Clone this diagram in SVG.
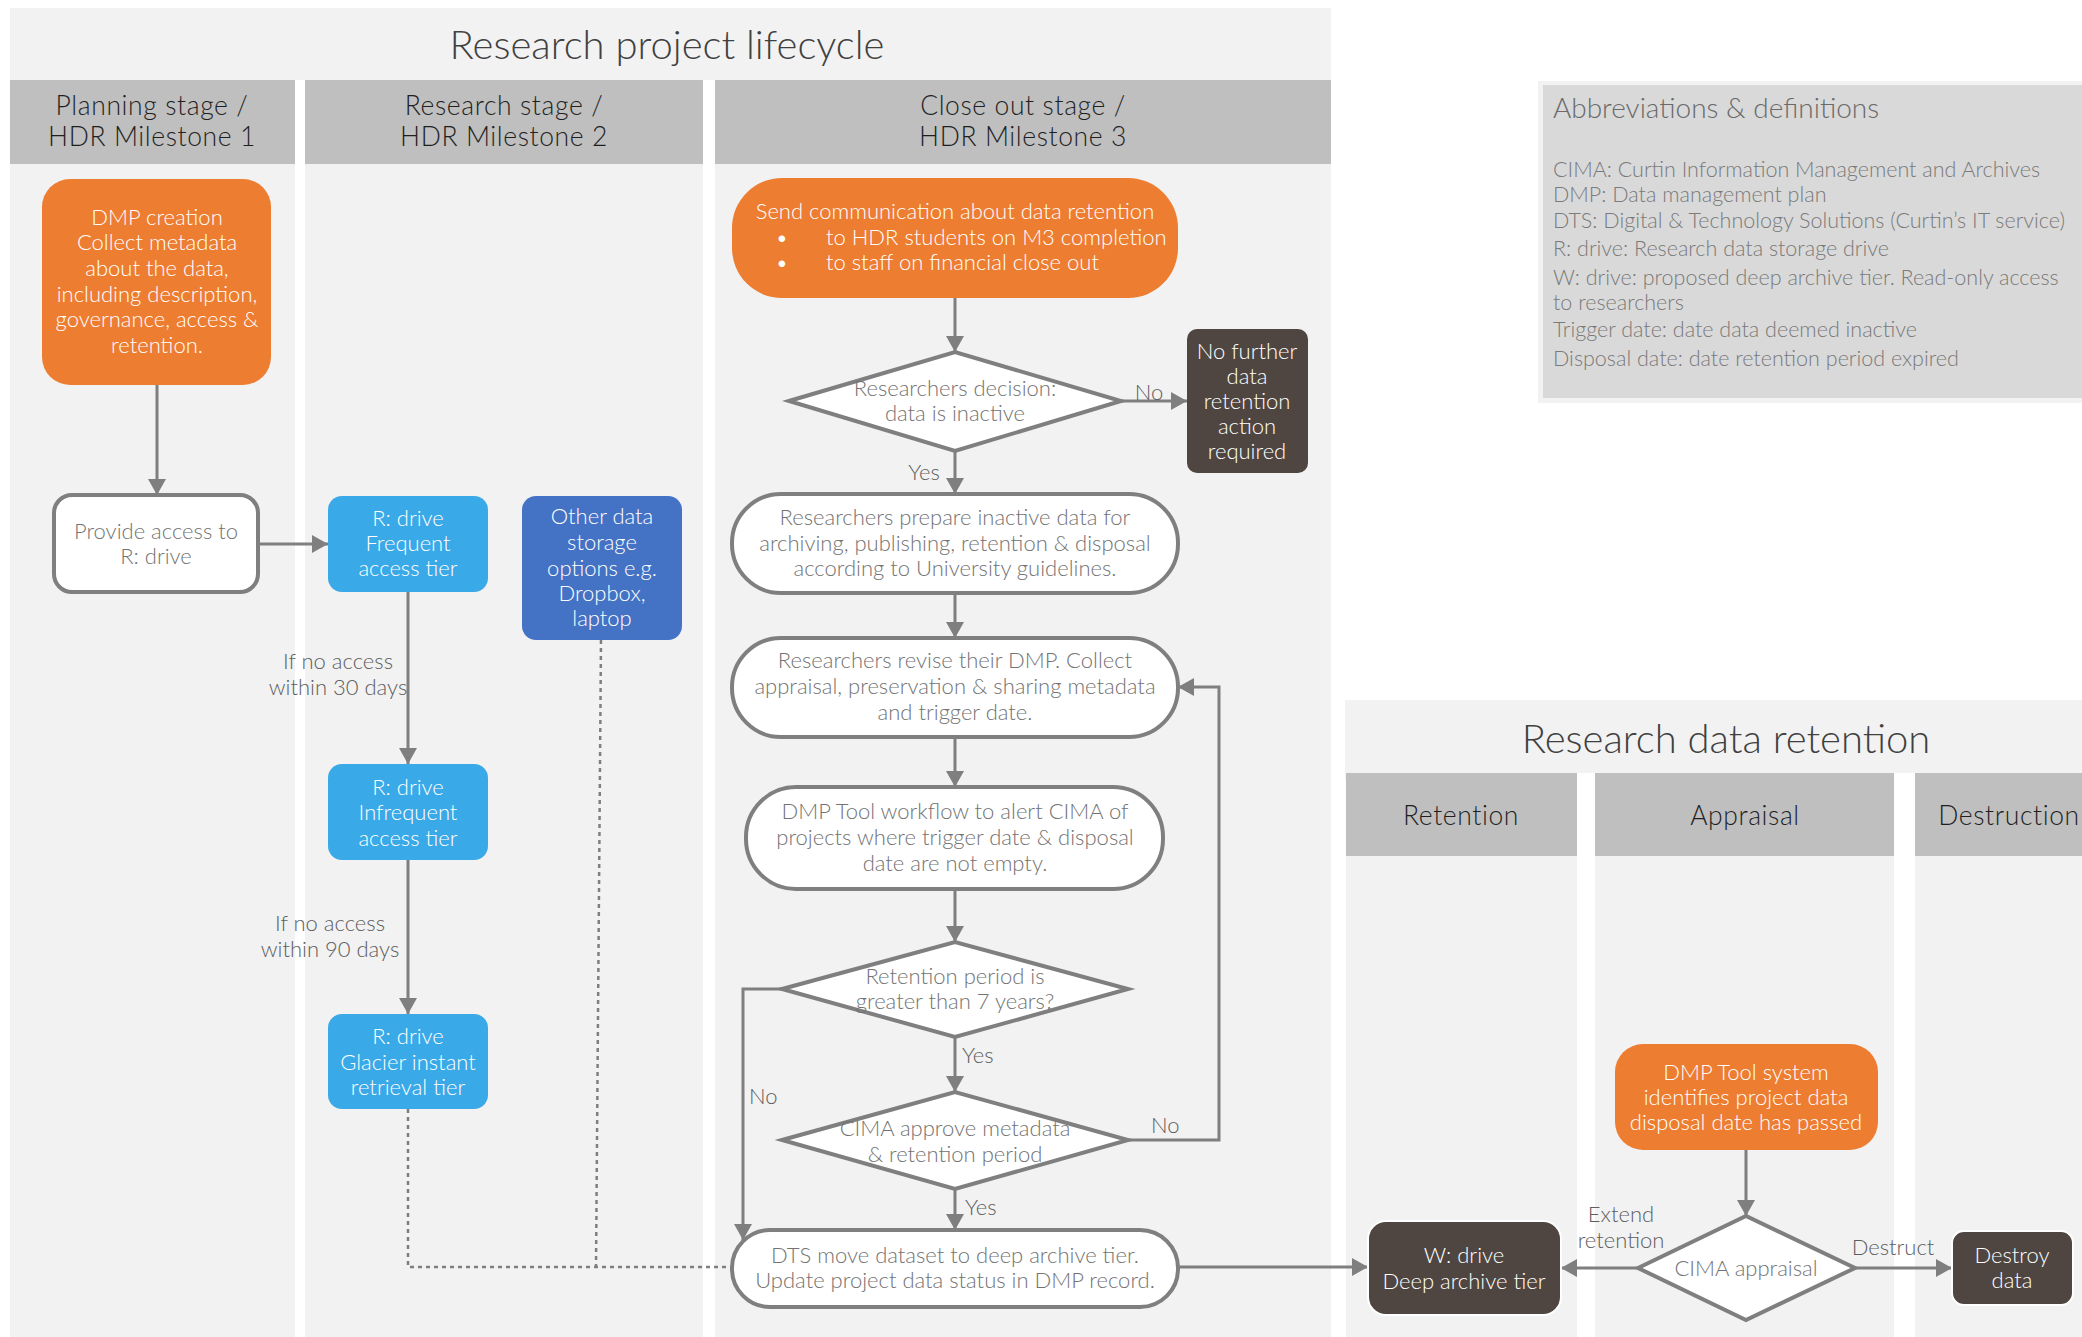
<svg xmlns="http://www.w3.org/2000/svg" width="2082" height="1337" viewBox="0 0 2082 1337">
<style>
.lane{fill:#F2F2F2}
.hdr{fill:#BFBFBF}
text{font-family:Lato,'Open Sans','Liberation Sans',sans-serif;font-weight:300}
.ttl{font-size:40px;fill:#404040;text-anchor:middle}
.hd{font-size:26.5px;fill:#1F1F1F;text-anchor:middle;letter-spacing:0.6px}
.bx{font-size:22px;text-anchor:middle}
.w{fill:#FFFFFF}
.g{fill:#737373}
.lbl{font-size:22px;fill:#5E5E5E}
.ab{font-size:21.5px;fill:#7A7A7A}
.abt{font-size:28px;fill:#6A6A6A}
.conn{stroke:#7F7F7F;stroke-width:3;fill:none}
.dot{stroke:#7F7F7F;stroke-width:2.5;stroke-dasharray:4 4;fill:none}
.wbox{fill:#FFFFFF;stroke:#7F7F7F;stroke-width:4}
.org{fill:#ED7D31}
.blu{fill:#3AA9E8}
.dblu{fill:#4472C4}
.brn{fill:#4F4641}
.brnw{fill:#4F4641;stroke:#FFFFFF;stroke-width:2}
</style>
<defs>
<marker id="arr" markerUnits="userSpaceOnUse" markerWidth="16" markerHeight="18" refX="16" refY="9" orient="auto">
<path d="M0,0 L16,9 L0,18 Z" fill="#7F7F7F"/>
</marker>
</defs>
<rect width="2082" height="1337" fill="#FFFFFF"/>

<g id="lifecycle-panel">
<rect class="lane" x="10" y="8" width="1321" height="80"/>
<rect class="lane" x="10" y="80" width="285" height="1257"/>
<rect class="lane" x="305" y="80" width="398" height="1257"/>
<rect class="lane" x="715" y="80" width="616" height="1257"/>
<rect x="295" y="80" width="10" height="1257" fill="#FFFFFF"/>
<rect x="703" y="80" width="12" height="1257" fill="#FFFFFF"/>
<text class="ttl" x="667" y="59">Research project lifecycle</text>
</g>
<g id="hdr-planning">
<rect class="hdr" x="10" y="80" width="285" height="84"/>
<text class="hd" x="152" y="115">Planning stage /</text>
<text class="hd" x="152" y="146">HDR Milestone 1</text>
</g>
<g id="hdr-research">
<rect class="hdr" x="305" y="80" width="398" height="84"/>
<text class="hd" x="504" y="115">Research stage /</text>
<text class="hd" x="504" y="146">HDR Milestone 2</text>
</g>
<g id="hdr-closeout">
<rect class="hdr" x="715" y="80" width="616" height="84"/>
<text class="hd" x="1023" y="115">Close out stage /</text>
<text class="hd" x="1023" y="146">HDR Milestone 3</text>
</g>

<g id="retention-panel">
<rect class="lane" x="1345" y="700" width="737" height="80"/>
<rect class="lane" x="1346" y="773" width="231" height="564"/>
<rect class="lane" x="1595" y="773" width="299" height="564"/>
<rect class="lane" x="1915" y="773" width="167" height="564"/>
<rect x="1577" y="773" width="18" height="564" fill="#FFFFFF"/>
<rect x="1894" y="773" width="21" height="564" fill="#FFFFFF"/>
<text class="ttl" x="1726" y="753">Research data retention</text>
</g>
<g id="hdr-retention">
<rect class="hdr" x="1346" y="773" width="231" height="83"/>
<text class="hd" x="1461" y="825">Retention</text>
</g>
<g id="hdr-appraisal">
<rect class="hdr" x="1595" y="773" width="299" height="83"/>
<text class="hd" x="1745" y="825">Appraisal</text>
</g>
<g id="hdr-destruction">
<rect class="hdr" x="1915" y="773" width="167" height="83"/>
<text class="hd" x="2009" y="825">Destruction</text>
</g>

<g id="abbreviations">
<rect x="1538" y="81" width="560" height="322" fill="#F2F2F2"/>
<rect x="1543" y="85" width="550" height="313" fill="#D9D9D9"/>
<text class="abt" x="1553" y="118">Abbreviations &amp; definitions</text>
<text class="ab" x="1553" y="177">CIMA: Curtin Information Management and Archives</text>
<text class="ab" x="1553" y="202">DMP: Data management plan</text>
<text class="ab" x="1553" y="228">DTS: Digital &amp; Technology Solutions (Curtin’s IT service)</text>
<text class="ab" x="1553" y="256">R: drive: Research data storage drive</text>
<text class="ab" x="1553" y="285">W: drive: proposed deep archive tier. Read-only access</text>
<text class="ab" x="1553" y="310">to researchers</text>
<text class="ab" x="1553" y="337">Trigger date: date data deemed inactive</text>
<text class="ab" x="1553" y="366">Disposal date: date retention period expired</text>
</g>

<g id="connectors">
<path class="conn" d="M157,385 V495" marker-end="url(#arr)"/>
<path class="conn" d="M258,544 H328" marker-end="url(#arr)"/>
<path class="conn" d="M408,592 V764" marker-end="url(#arr)"/>
<path class="conn" d="M408,860 V1014" marker-end="url(#arr)"/>
<path class="dot" d="M408,1109 V1267 H732"/>
<path class="dot" d="M601,640 L596,1267"/>
<path class="conn" d="M955,298 V352" marker-end="url(#arr)"/>
<path class="conn" d="M1121,401 H1187" marker-end="url(#arr)"/>
<path class="conn" d="M955,451 V494" marker-end="url(#arr)"/>
<path class="conn" d="M955,593 V638" marker-end="url(#arr)"/>
<path class="conn" d="M955,737 V787" marker-end="url(#arr)"/>
<path class="conn" d="M955,889 V942" marker-end="url(#arr)"/>
<path class="conn" d="M955,1037 V1092" marker-end="url(#arr)"/>
<path class="conn" d="M955,1189 V1230" marker-end="url(#arr)"/>
<path class="conn" d="M782,989 H743 V1240" marker-end="url(#arr)"/>
<path class="conn" d="M1128,1140 H1219 V687 H1178" marker-end="url(#arr)"/>
<path class="conn" d="M1178,1267 H1368" marker-end="url(#arr)"/>
<path class="conn" d="M1746,1150 V1216" marker-end="url(#arr)"/>
<path class="conn" d="M1638,1268 H1561" marker-end="url(#arr)"/>
<path class="conn" d="M1855,1268 H1952" marker-end="url(#arr)"/>
<text class="lbl" x="338" y="669" text-anchor="middle">If no access</text>
<text class="lbl" x="338" y="695" text-anchor="middle">within 30 days</text>
<text class="lbl" x="330" y="931" text-anchor="middle">If no access</text>
<text class="lbl" x="330" y="957" text-anchor="middle">within 90 days</text>
<text class="lbl" x="1149" y="400" text-anchor="middle">No</text>
<text class="lbl" x="924" y="480" text-anchor="middle">Yes</text>
<text class="lbl" x="962" y="1063">Yes</text>
<text class="lbl" x="965" y="1215">Yes</text>
<text class="lbl" x="749" y="1104">No</text>
<text class="lbl" x="1151" y="1133">No</text>
<text class="lbl" x="1621" y="1222" text-anchor="middle">Extend</text>
<text class="lbl" x="1621" y="1248" text-anchor="middle">retention</text>
<text class="lbl" x="1893" y="1255" text-anchor="middle">Destruct</text>
</g>

<g id="n-dmp-creation">
<rect class="org" x="42" y="179" width="229" height="206" rx="28"/>
<text class="bx w" x="157" y="225">DMP creation</text>
<text class="bx w" x="157" y="250">Collect metadata</text>
<text class="bx w" x="157" y="276">about the data,</text>
<text class="bx w" x="157" y="302">including description,</text>
<text class="bx w" x="157" y="327">governance, access &amp;</text>
<text class="bx w" x="157" y="353">retention.</text>
</g>
<g id="n-provide-access">
<rect class="wbox" x="54" y="495" width="204" height="97" rx="18"/>
<text class="bx g" x="156" y="539">Provide access to</text>
<text class="bx g" x="156" y="564">R: drive</text>
</g>
<g id="n-rdrive-frequent">
<rect class="blu" x="328" y="496" width="160" height="96" rx="14"/>
<text class="bx w" x="408" y="526">R: drive</text>
<text class="bx w" x="408" y="551">Frequent</text>
<text class="bx w" x="408" y="576">access tier</text>
</g>
<g id="n-other-storage">
<rect class="dblu" x="522" y="496" width="160" height="144" rx="14"/>
<text class="bx w" x="602" y="524">Other data</text>
<text class="bx w" x="602" y="550">storage</text>
<text class="bx w" x="602" y="576">options e.g.</text>
<text class="bx w" x="602" y="601">Dropbox,</text>
<text class="bx w" x="602" y="626">laptop</text>
</g>
<g id="n-rdrive-infrequent">
<rect class="blu" x="328" y="764" width="160" height="96" rx="14"/>
<text class="bx w" x="408" y="795">R: drive</text>
<text class="bx w" x="408" y="820">Infrequent</text>
<text class="bx w" x="408" y="846">access tier</text>
</g>
<g id="n-rdrive-glacier">
<rect class="blu" x="328" y="1014" width="160" height="95" rx="14"/>
<text class="bx w" x="408" y="1044">R: drive</text>
<text class="bx w" x="408" y="1070">Glacier instant</text>
<text class="bx w" x="408" y="1095">retrieval tier</text>
</g>
<g id="n-send-communication">
<rect class="org" x="732" y="178" width="446" height="120" rx="50"/>
<text class="bx w" x="955" y="219">Send communication about data retention</text>
<text class="bx w" x="782" y="245">•</text>
<text class="bx w" x="782" y="270">•</text>
<text class="w" x="826" y="245" style="font-size:22px">to HDR students on M3 completion</text>
<text class="w" x="826" y="270" style="font-size:22px">to staff on financial close out</text>
</g>
<g id="n-decision-inactive">
<polygon class="wbox" points="789,401 955,352 1121,401 955,451"/>
<text class="bx g" x="955" y="396">Researchers decision:</text>
<text class="bx g" x="955" y="421">data is inactive</text>
</g>
<g id="n-no-further">
<rect class="brn" x="1187" y="329" width="121" height="144" rx="10"/>
<text class="bx w" x="1247" y="359">No further</text>
<text class="bx w" x="1247" y="384">data</text>
<text class="bx w" x="1247" y="409">retention</text>
<text class="bx w" x="1247" y="434">action</text>
<text class="bx w" x="1247" y="459">required</text>
</g>
<g id="n-prepare">
<rect class="wbox" x="732" y="494" width="446" height="99" rx="49"/>
<text class="bx g" x="955" y="525">Researchers prepare inactive data for</text>
<text class="bx g" x="955" y="551">archiving, publishing, retention &amp; disposal</text>
<text class="bx g" x="955" y="576">according to University guidelines.</text>
</g>
<g id="n-revise">
<rect class="wbox" x="732" y="638" width="446" height="99" rx="49"/>
<text class="bx g" x="955" y="668">Researchers revise their DMP. Collect</text>
<text class="bx g" x="955" y="694">appraisal, preservation &amp; sharing metadata</text>
<text class="bx g" x="955" y="720">and trigger date.</text>
</g>
<g id="n-workflow">
<rect class="wbox" x="746" y="787" width="417" height="102" rx="50"/>
<text class="bx g" x="955" y="819">DMP Tool workflow to alert CIMA of</text>
<text class="bx g" x="955" y="845">projects where trigger date &amp; disposal</text>
<text class="bx g" x="955" y="871">date are not empty.</text>
</g>
<g id="n-decision-retention">
<polygon class="wbox" points="782,989 955,942 1128,989 955,1037"/>
<text class="bx g" x="955" y="984">Retention period is</text>
<text class="bx g" x="955" y="1009">greater than 7 years?</text>
</g>
<g id="n-decision-cima">
<polygon class="wbox" points="782,1140 955,1092 1128,1140 955,1189"/>
<text class="bx g" x="955" y="1136">CIMA approve metadata</text>
<text class="bx g" x="955" y="1162">&amp; retention period</text>
</g>
<g id="n-dts-move">
<rect class="wbox" x="732" y="1230" width="446" height="77" rx="38"/>
<text class="bx g" x="955" y="1263">DTS move dataset to deep archive tier.</text>
<text class="bx g" x="955" y="1288">Update project data status in DMP record.</text>
</g>
<g id="n-wdrive">
<rect class="brnw" x="1368" y="1221" width="193" height="94" rx="18"/>
<text class="bx w" x="1464" y="1263">W: drive</text>
<text class="bx w" x="1464" y="1289">Deep archive tier</text>
</g>
<g id="n-dmp-system">
<rect class="org" x="1615" y="1044" width="263" height="106" rx="28"/>
<text class="bx w" x="1746" y="1080">DMP Tool system</text>
<text class="bx w" x="1746" y="1105">identifies project data</text>
<text class="bx w" x="1746" y="1130">disposal date has passed</text>
</g>
<g id="n-cima-appraisal">
<polygon class="wbox" points="1638,1268 1746,1216 1855,1268 1746,1320"/>
<text class="bx g" x="1746" y="1276">CIMA appraisal</text>
</g>
<g id="n-destroy">
<rect class="brnw" x="1952" y="1231" width="121" height="74" rx="12"/>
<text class="bx w" x="2012" y="1263">Destroy</text>
<text class="bx w" x="2012" y="1288">data</text>
</g>
</svg>
